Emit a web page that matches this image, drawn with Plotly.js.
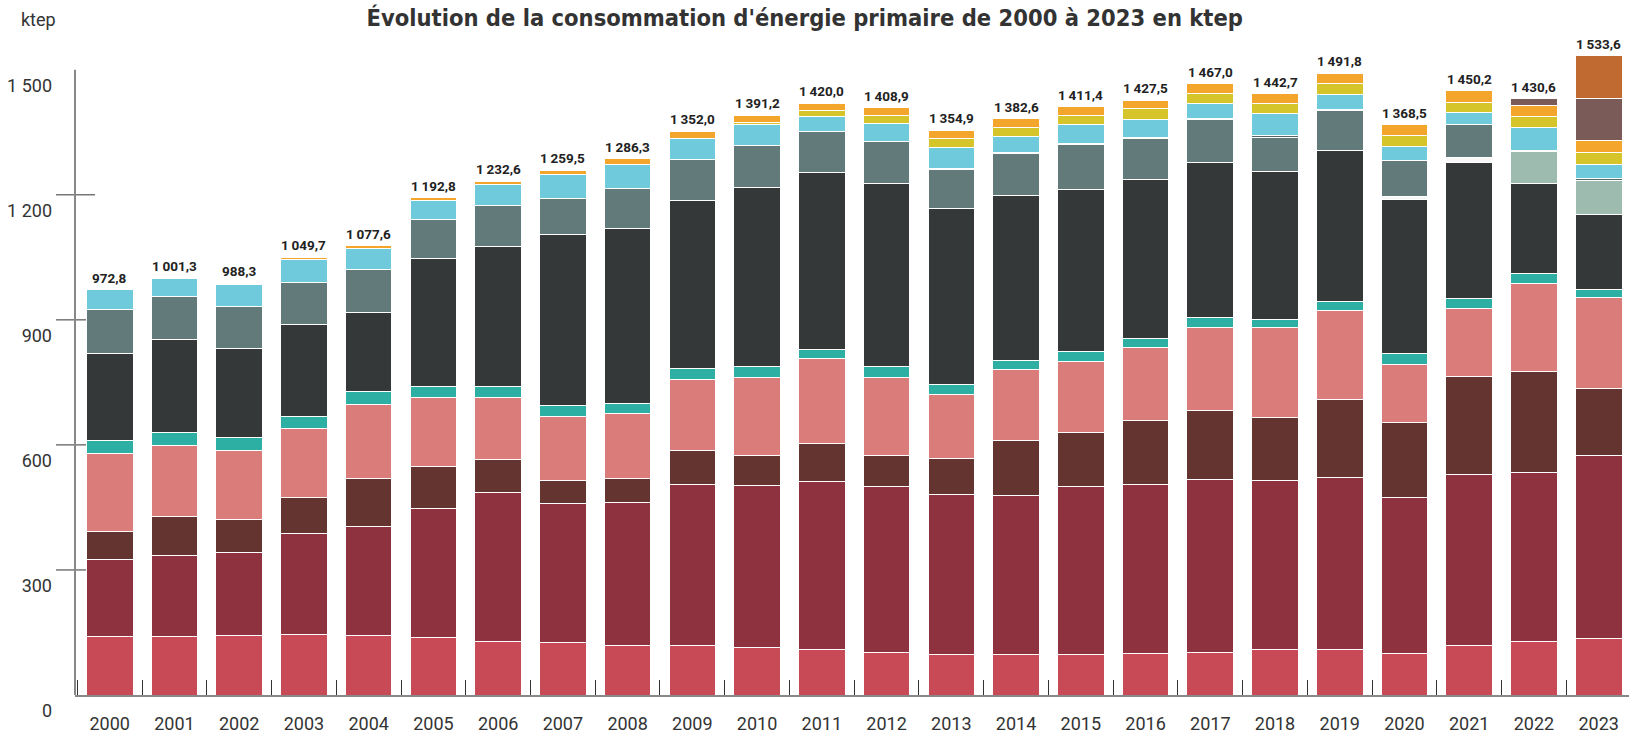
<!DOCTYPE html>
<html>
<head>
<meta charset="utf-8">
<script src="https://cdn.plot.ly/plotly-3.0.1.min.js"></script>
<style>html,body{margin:0;padding:0;background:#fff;}#chart{width:1629px;height:733px;}</style>
</head>
<body>
<div id="chart"></div>
<script>
const years = ['2000','2001','2002','2003','2004','2005','2006','2007','2008','2009','2010','2011','2012','2013','2014','2015','2016','2017','2018','2019','2020','2021','2022','2023'];
const totals = [972.8,1001.3,988.3,1049.7,1077.6,1192.8,1232.6,1259.5,1286.3,1352.0,1391.2,1420.0,1408.9,1354.9,1382.6,1411.4,1427.5,1467.0,1442.7,1491.8,1368.5,1450.2,1430.6,1533.6];

const serie01 = [141,141,142.5,144,141.8,137.6,127.4,125.7,119.4,119.4,113.9,108.4,101.0,98.3,96.4,96.4,98.8,101.8,108.6,108.6,99.9,118.1,128.2,135.2];
const serie02 = [183,193.5,200,243,261.6,310.5,357.8,334.2,341.6,385.7,388.4,404.0,400.4,383.8,382.9,403.1,407.1,414.8,405.1,412.9,373.5,409.8,405.7,439.1];
const serie03 = [69,93.5,77.5,86.5,115.6,99.6,79.4,54.0,57.8,80.8,72.5,90.9,73.4,84.5,132.3,129.5,153.6,166.4,152.6,187.9,179.6,237.1,241.2,160.5];
const serie04 = [187.5,170,167,165,178.9,165.4,148.5,154.5,156.1,171.7,186.4,202.9,186.4,155.2,168.9,171.7,174.2,198.6,216.3,214.3,140.3,162.5,213.0,218.0];
const serie05 = [31,32,30.5,29.5,29.5,27.8,27.0,25.3,24.8,24.8,25.8,23.9,26.7,23.8,22.1,23.9,22.5,23.5,18.6,21.5,25.2,23.2,23.2,20.2];
const serie06 = [207.5,222,215,221.5,190.7,305.5,335.8,411.8,420.6,404.0,429.7,423.3,439.8,421.5,396.7,389.4,379.6,371.8,354.2,360.1,371.5,328.1,215.0,180.6];
const serie07 = [0,0,0,0,0,0,0,0,0,0,0,0,0,0,0,0,0,0,0,0,5,10,0,0];
const serie08 = [105,103,100,101,103.8,95.4,98.8,86.9,94.6,99.2,101.0,97.4,99.2,93.7,100.1,105.6,99.8,102.7,83.2,96.9,86.8,80.8,0,0];
const serie09 = [0,0,0,0,0,0,0,0,0,0,0,0,0,0,0,0,0,0,0,0,0,0,76.7,81.8];
const serie10 = [0,0,0,0,0,0,0,0,0,0,0,0,0,2.5,2.5,4,3,3,3,3,0,0,3,3];
const serie11 = [48.8,44,51.5,54,49.0,45.5,49.8,56.5,58,49.7,50.8,38.2,44.1,49.8,36.9,44.6,42,37.2,52.7,36.1,35.3,28.2,55.5,34.3];
const serie12 = [0,0,0,0,0,0,0,0,0,0,6,13,20.2,22.1,23,21.1,25.5,24.4,24.5,25.4,25.3,24.3,25.3,28.3];
const serie13 = [0,2.3,4.3,5.2,6.7,5.5,8.1,10.6,13.4,16.7,16.7,18,17.7,19.7,20.8,22.1,21.4,22.8,23.9,25.1,26.1,28.1,27.2,28.2];
const serie14 = [0,0,0,0,0,0,0,0,0,0,0,0,0,0,0,0,0,0,0,0,0,0,16.6,103.0];
const serie15 = [0,0,0,0,0,0,0,0,0,0,0,0,0,0,0,0,0,0,0,0,0,0,0,101.4];

const yTickVals = [0,300,600,900,1200,1500];
const yTickText = ['0','300','600','900','1 200','1 500'];
const crossTicks = [300,600,900,1200];

const seriesList = [
  {name:'Série 1', y:serie01, color:'#c94a57'},
  {name:'Série 2', y:serie02, color:'#8e323f'},
  {name:'Série 3', y:serie03, color:'#643430'},
  {name:'Série 4', y:serie04, color:'#d97c7a'},
  {name:'Série 5', y:serie05, color:'#2eafa4'},
  {name:'Série 6', y:serie06, color:'#343839'},
  {name:'Série 7', y:serie07, color:'#f7f7f7'},
  {name:'Série 8', y:serie08, color:'#627b7a'},
  {name:'Série 9', y:serie09, color:'#9dbbae'},
  {name:'Série 10', y:serie10, color:'#56676a'},
  {name:'Série 11', y:serie11, color:'#6fcadc'},
  {name:'Série 12', y:serie12, color:'#d5c52b'},
  {name:'Série 13', y:serie13, color:'#f4a52b'},
  {name:'Série 14', y:serie14, color:'#7a5b58'},
  {name:'Série 15', y:serie15, color:'#c06a31'}
];

const traces = seriesList.map(s => ({
  type:'bar', x:years, y:s.y, name:s.name,
  marker:{color:s.color, line:{color:'#ffffff', width:1}},
  hovertemplate:'%{x}: %{y:.1f} ktep<extra>'+s.name+'</extra>'
}));

function fmt(v){
  const p = v.toFixed(1).split('.');
  const i = p[0].replace(/\B(?=(\d{3})+(?!\d))/g, '\u2009');
  return i + ',' + p[1];
}

const TICKFONT = 'Roboto, "DejaVu Sans Condensed", sans-serif';
const TITLEFONT = '"DejaVu Sans Condensed", Roboto, sans-serif';

const annotations = years.map((yr,i) => ({
  x:i, y:totals[i], xref:'x', yref:'y', text:fmt(totals[i]),
  showarrow:false, yanchor:'bottom', yshift:2,
  font:{family:TICKFONT, size:13.5, color:'#222', weight:700}
}));
annotations.push({
  xref:'paper', yref:'paper', x:-0.036, y:1.032, xanchor:'left', yanchor:'middle',
  text:'ktep', showarrow:false, font:{family:TICKFONT, size:18, color:'#333'}
});

const shapes = crossTicks.map(v => ({
  type:'line', layer:'below', xref:'paper', yref:'y',
  x0:-0.0122, x1:0.0129, y0:v, y1:v, line:{color:'#333', width:1}
}));
shapes.push({
  type:'line', layer:'above', xref:'paper', yref:'y',
  x0:0, x1:0, y0:0, y1:yTickVals[yTickVals.length-1], line:{color:'#888', width:2}
});

const layout = {
  width:1629, height:733,
  margin:{l:75, r:0, t:40, b:38},
  paper_bgcolor:'#fff', plot_bgcolor:'#fff',
  barmode:'stack', bargap:0.28,
  showlegend:false,
  title:{text:"Évolution de la consommation d'énergie primaire de 2000 à 2023 en ktep",
    xref:'container', yref:'container', x:0.494, xanchor:'center', y:0.976, yanchor:'middle',
    font:{family:TITLEFONT, size:23.5, color:'#333', weight:700}},
  xaxis:{type:'category', range:[-0.536, 23.468], showgrid:false, zeroline:false,
    showline:true, linecolor:'#888', linewidth:2,
    ticks:'inside', ticklen:15, tickcolor:'#333', tickwidth:1, tickson:'boundaries',
    ticklabelstandoff:11,
    tickfont:{family:TICKFONT, size:18, color:'#333'}, fixedrange:true},
  yaxis:{range:[0,1571.5], showgrid:false, zeroline:false, showline:false,
    tickmode:'array', tickvals:yTickVals, ticktext:yTickText,
    ticks:'', ticklabelstandoff:22, ticklabelshift:16,
    tickfont:{family:TICKFONT, size:18, color:'#333'}, fixedrange:true},
  shapes:shapes,
  annotations:annotations
};

Plotly.newPlot('chart', traces, layout, {displayModeBar:false, staticPlot:true});
</script>
</body>
</html>
